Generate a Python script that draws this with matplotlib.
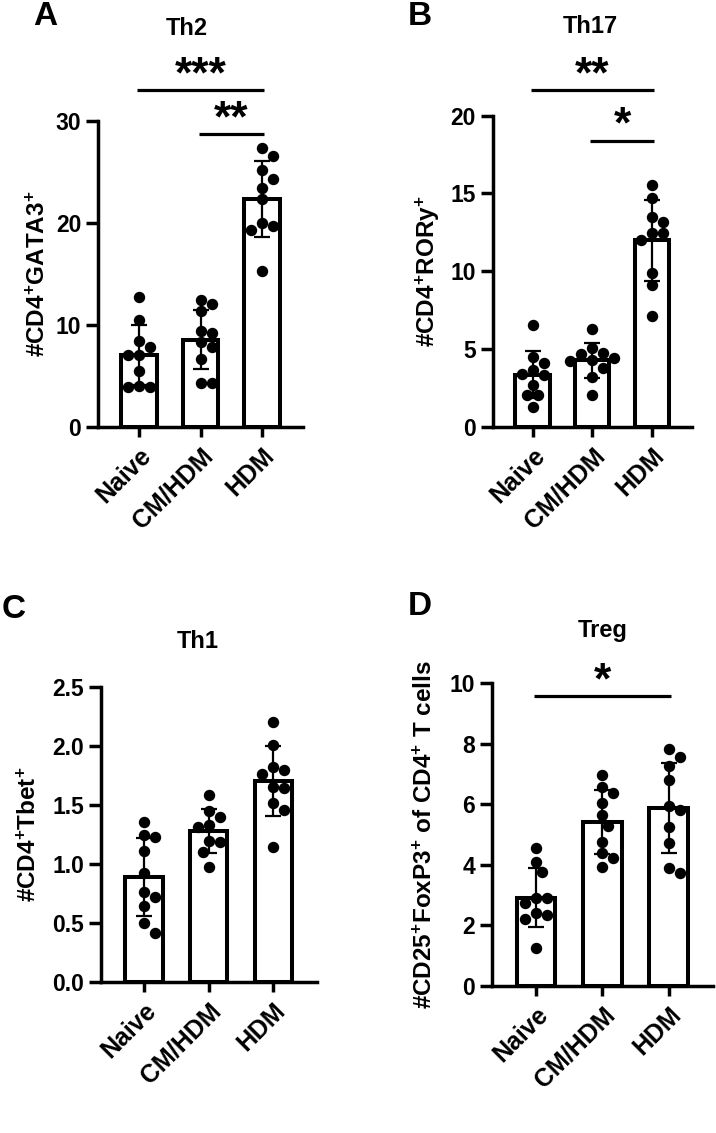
import numpy as np
import matplotlib
matplotlib.use("Agg")
import matplotlib.pyplot as plt

plt.rcParams['font.family'] = ['Liberation Sans', 'DejaVu Sans']
plt.rcParams['font.weight'] = 'bold'
plt.rcParams['mathtext.fontset'] = 'custom'
plt.rcParams['mathtext.rm'] = 'Liberation Sans:bold'
plt.rcParams['mathtext.bf'] = 'Liberation Sans:bold'
plt.rcParams['mathtext.it'] = 'Liberation Sans:bold'

# data
groups = ["Naive", "CM/HDM", "HDM"]

th2_naive = [12.7, 10.5, 8.4, 7.8, 7.0, 7.0, 5.5, 4.0, 3.9, 3.9]
th2_cmhdm = [12.4, 12.0, 11.3, 9.4, 9.15, 8.3, 7.8, 6.6, 4.25, 4.25]
th2_hdm = [27.3, 26.5, 25.2, 24.3, 23.4, 22.3, 20.0, 19.7, 19.3, 15.3]

th17_naive = [6.54, 4.5, 4.07, 3.64, 3.32, 3.4, 2.68, 2.04, 2.04, 1.24]
th17_cmhdm = [6.26, 5.04, 4.76, 4.67, 4.4, 4.29, 4.2, 3.75, 3.2, 2.04]
th17_hdm = [15.54, 14.68, 13.5, 13.18, 12.43, 12.43, 12.0, 9.86, 9.11, 7.12]

th1_naive = [1.356, 1.223, 1.243, 1.107, 0.918, 0.763, 0.715, 0.641, 0.494, 0.415]
th1_cmhdm = [1.58, 1.45, 1.40, 1.33, 1.31, 1.19, 1.18, 1.10, 0.97]
th1_hdm = [2.198, 2.006, 1.822, 1.794, 1.76, 1.653, 1.644, 1.511, 1.455, 1.138]

treg_naive = [4.54, 4.1, 3.77, 2.89, 2.89, 2.75, 2.4, 2.34, 2.2, 1.25]
treg_cmhdm = [6.97, 6.58, 6.36, 6.03, 5.64, 5.28, 4.76, 4.38, 4.21, 3.94]
treg_hdm = [7.82, 7.55, 7.27, 6.8, 5.94, 5.81, 5.26, 4.71, 3.88, 3.72]

# significance brackets: (from group, to group, height, label)
sig_th2 = [(0, 2, 33.0, "***"), (1, 2, 28.7, "**")]
sig_th17 = [(0, 2, 21.65, "**"), (1, 2, 18.4, "*")]
sig_th1 = []
sig_treg = [(0, 2, 9.58, "*")]

W, H = 716, 1133
fig = plt.figure(figsize=(W / 100, H / 100), dpi=100)


def px_axes(left, right, top, bottom):
    return fig.add_axes([left / W, 1 - bottom / H, (right - left) / W, (bottom - top) / H])


def swarm(ax, xc, vals, diam=10.0):
    mind = diam * 1.1
    step = mind / 2
    pts = ax.transData.transform([(xc, v) for v in vals])
    inv = ax.transData.inverted()
    xs = np.zeros(len(vals))
    placed = []
    for i in np.argsort(vals)[::-1]:
        px, py = pts[i]
        for k in [0, 1, -1, 2, -2, 3, -3, 4, -4, 5, -5]:
            cand = px + k * step
            if all((cand - qx) ** 2 + (py - qy) ** 2 >= mind ** 2 for qx, qy in placed):
                break
        placed.append((cand, py))
        xs[i] = inv.transform((cand, py))[0]
    return xs


def panel(box, series, ymax, yticks, ylabel, sigs, fmt="{:g}"):
    ax = px_axes(*box)
    x = np.arange(len(groups))
    ax.set_xlim(-0.67, 2.67)
    ax.set_ylim(0, ymax)
    means = [np.mean(s) for s in series]
    sds = [np.std(s, ddof=1) for s in series]
    ax.bar(x, means, width=0.58, color="white", edgecolor="black", linewidth=2.9, zorder=2)
    ax.errorbar(x, means, yerr=sds, fmt="none", ecolor="black", elinewidth=1.6,
                capsize=6, capthick=1.6, zorder=3)
    for i, s in enumerate(series):
        xs = swarm(ax, x[i], s)
        ax.plot(xs, s, "o", color="black", markersize=7.2, zorder=4, clip_on=False)
    for a, b, h, lab in sigs:
        ax.plot([a - 0.03, b + 0.03], [h, h], color="black", lw=2.3, clip_on=False,
                solid_capstyle="butt")
        ax.annotate(lab, xy=((a + b) / 2, h), xytext=(0, 2), textcoords="offset points",
                    ha="center", va="baseline", fontsize=32, fontweight="bold",
                    annotation_clip=False)
    for sp in ["top", "right"]:
        ax.spines[sp].set_visible(False)
    for sp in ["left", "bottom"]:
        ax.spines[sp].set_linewidth(2.5)
    ax.set_yticks(yticks)
    ax.set_yticklabels([fmt.format(t) for t in yticks])
    ax.set_xticks(x)
    ax.set_xticklabels(groups, rotation=45, ha="right", va="top", rotation_mode="anchor")
    ax.tick_params(axis="y", length=9, width=2.5, labelsize=16.5, pad=3)
    ax.tick_params(axis="x", length=7, width=2.5, labelsize=18, pad=5)
    ax.set_ylabel(ylabel, fontsize=17.5, fontweight="bold")
    return ax


axA = panel((98, 303, 120.7, 426.7), [th2_naive, th2_cmhdm, th2_hdm], 30, [0, 10, 20, 30],
            r"#CD4$^{+}$GATA3$^{+}$", sig_th2)
axA.yaxis.set_label_coords(-0.234, 0.5)

axB = panel((492.7, 691.7, 115.7, 426.7), [th17_naive, th17_cmhdm, th17_hdm], 20,
            [0, 5, 10, 15, 20], r"#CD4$^{+}$RORy$^{+}$", sig_th17)
axB.yaxis.set_label_coords(-0.255, 0.5)

axC = panel((100.7, 316.7, 686.7, 981.7), [th1_naive, th1_cmhdm, th1_hdm], 2.5,
            [0, 0.5, 1.0, 1.5, 2.0, 2.5], r"#CD4$^{+}$Tbet$^{+}$", sig_th1, fmt="{:.1f}")
axC.yaxis.set_label_coords(-0.276, 0.5)

axD = panel((491.7, 713, 683.3, 985.7), [treg_naive, treg_cmhdm, treg_hdm], 10,
            [0, 2, 4, 6, 8, 10], r"#CD25$^{+}$FoxP3$^{+}$ of CD4$^{+}$ T cells", sig_treg)
axD.yaxis.set_label_coords(-0.247, 0.5)

# titles and panel letters
for txt, xc, yb in [("Th2", 187, 35), ("Th17", 590, 33), ("Th1", 198, 648), ("Treg", 603, 637)]:
    fig.text(xc / W, 1 - yb / H, txt, ha="center", va="baseline", fontsize=17, fontweight="bold")
for txt, xl, yb in [("A", 33, 25), ("B", 408, 25), ("C", 2, 618), ("D", 408, 615)]:
    fig.text(xl / W, 1 - yb / H, txt, ha="left", va="baseline", fontsize=24, fontweight="bold")

fig.savefig("out.png", dpi=100)
